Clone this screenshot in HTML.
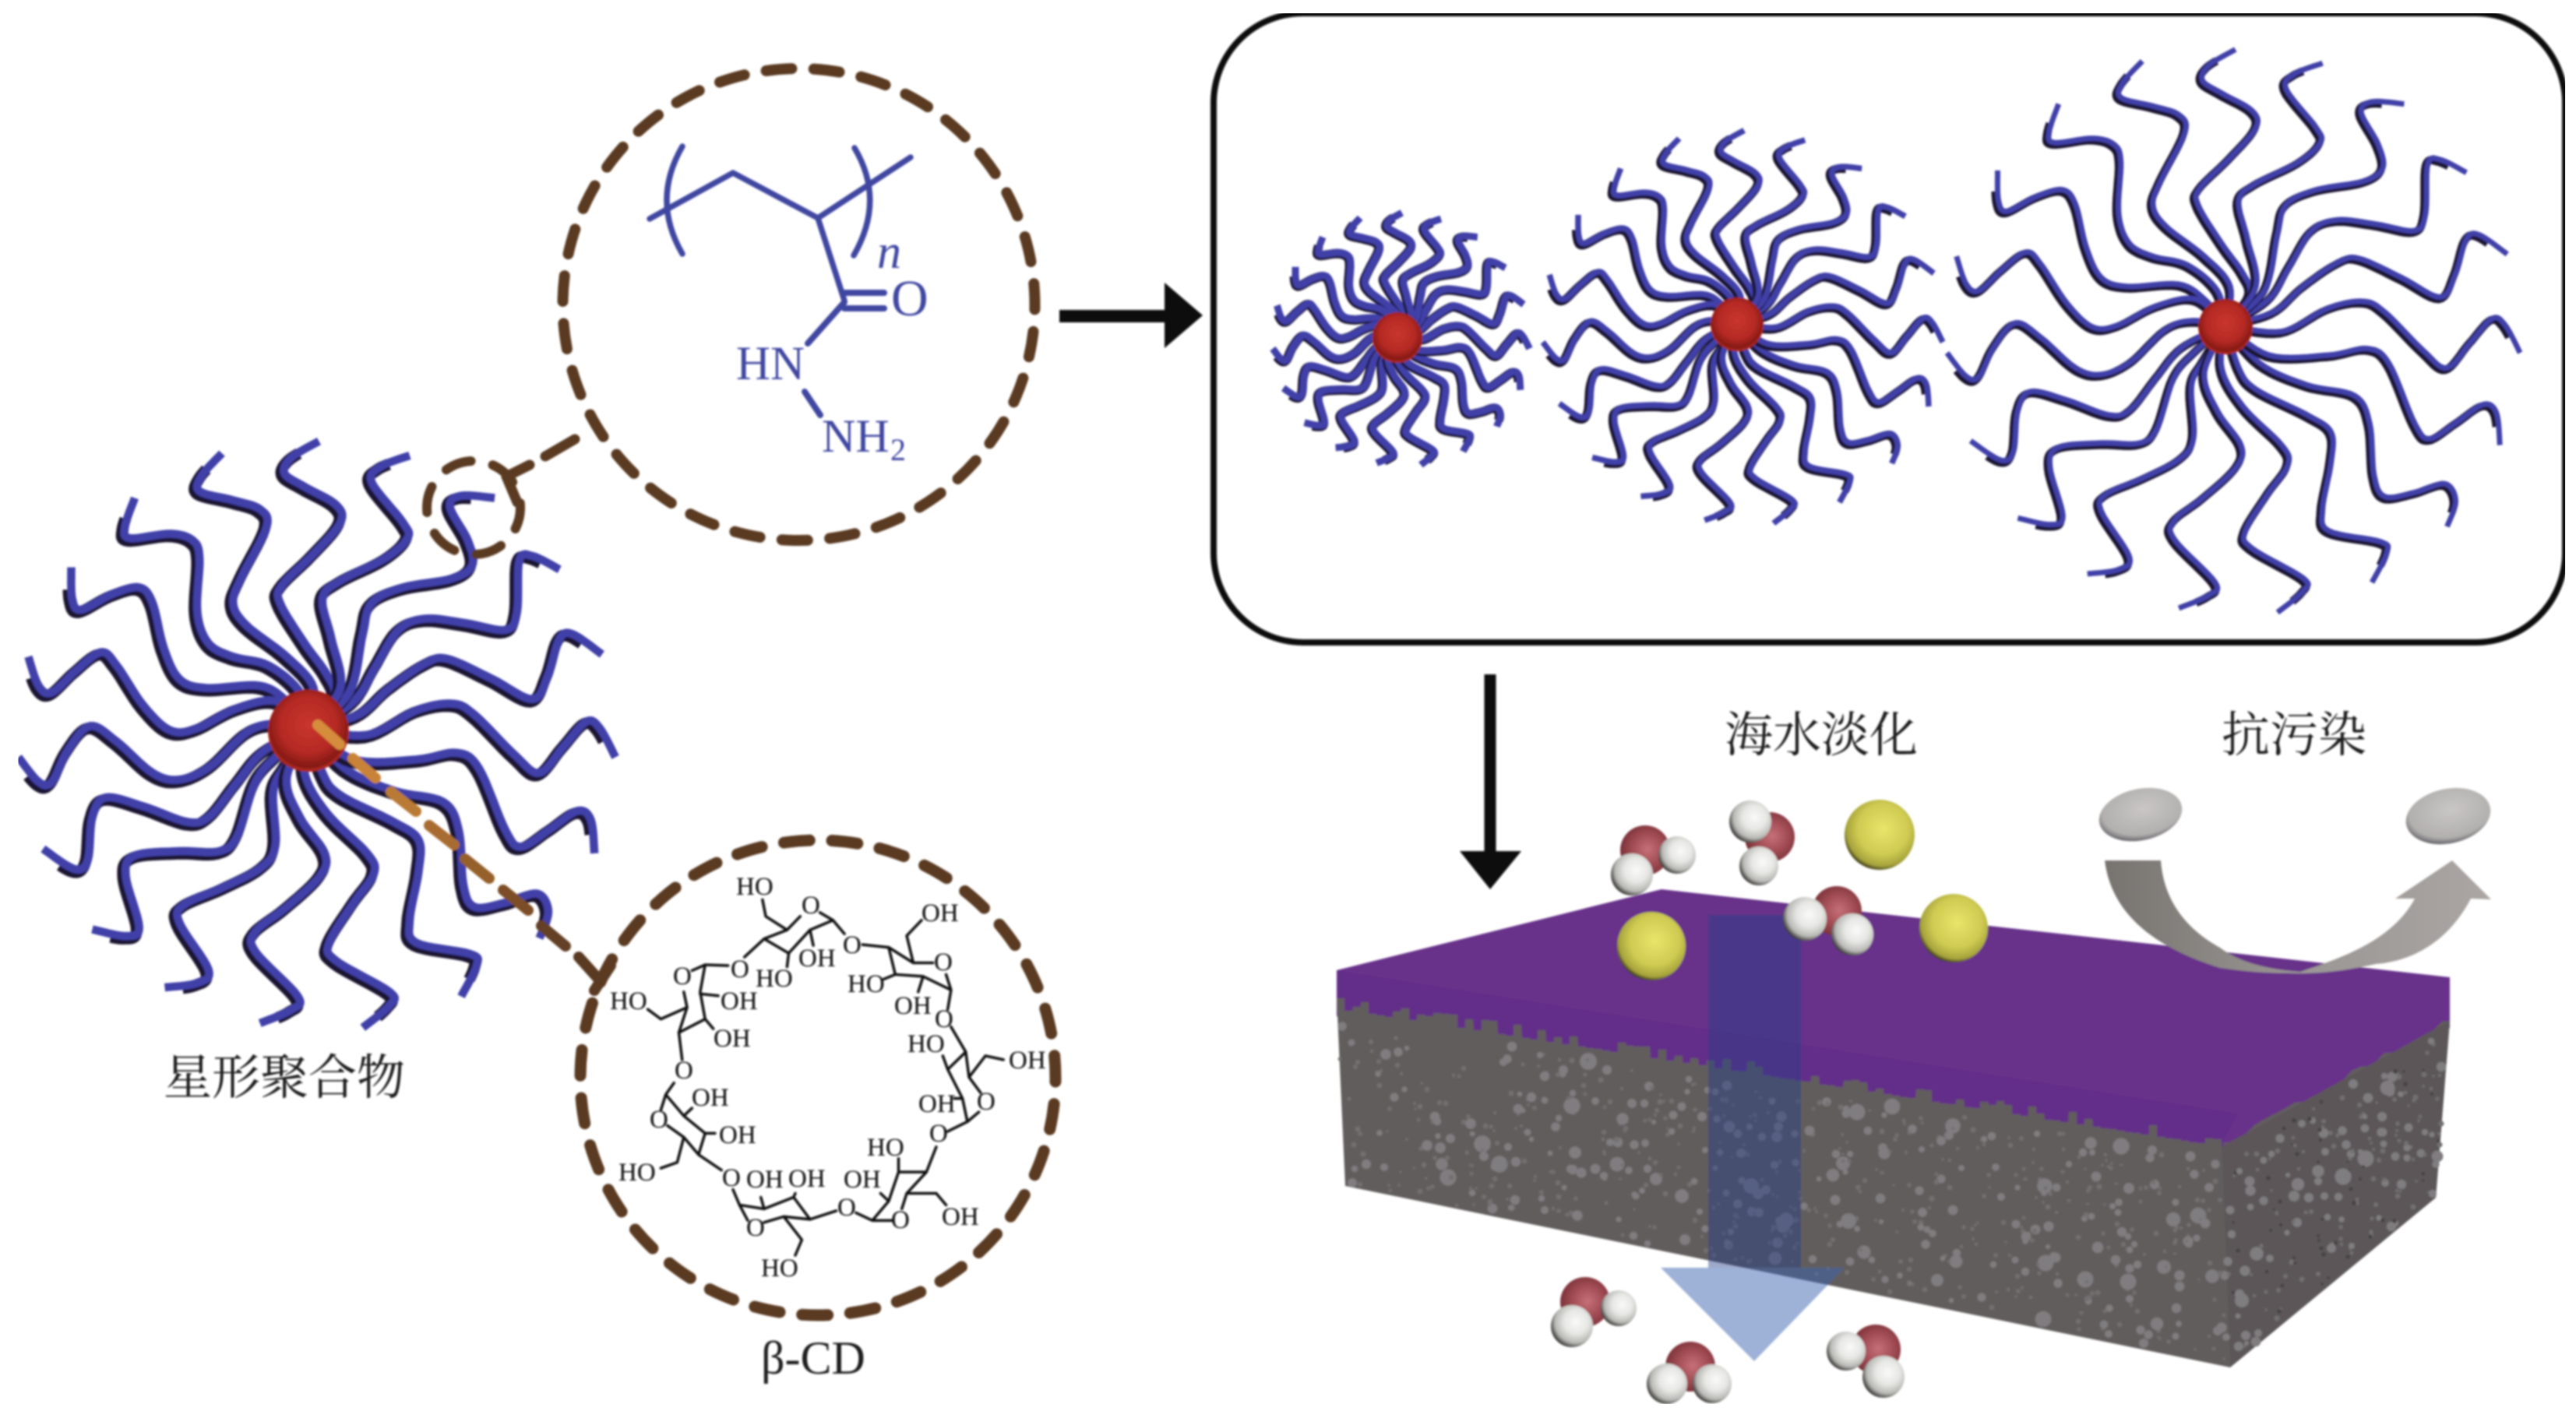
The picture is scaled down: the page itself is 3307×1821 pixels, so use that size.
<!DOCTYPE html>
<html><head><meta charset="utf-8"><title>Diagram</title>
<style>
html,body{margin:0;padding:0;background:#fff}
svg{display:block}
.s{font-family:"Liberation Serif","Noto Serif CJK SC",serif}
.c{font-family:"Liberation Serif",serif;font-size:33px;fill:#111}
.b{font-family:"Liberation Serif",serif;fill:#3f46a0}
.z{font-family:"Noto Serif CJK SC","Liberation Serif",serif;font-size:62px;fill:#1a1a1a}
</style></head>
<body>
<svg xmlns="http://www.w3.org/2000/svg" width="3307" height="1821" viewBox="0 0 3307 1821">
<defs>
<filter id="soft" x="0" y="0" width="100%" height="100%"><feGaussianBlur stdDeviation="1.2"/></filter>
<radialGradient id="red" cx="50%" cy="45%" r="55%"><stop offset="0" stop-color="#c8352e"/><stop offset=".65" stop-color="#b52a24"/><stop offset="1" stop-color="#7f1712"/></radialGradient>
<radialGradient id="oxy" cx="55%" cy="48%" r="55%"><stop offset="0" stop-color="#c67078"/><stop offset=".6" stop-color="#9f4a52"/><stop offset="1" stop-color="#7a3138"/></radialGradient>
<radialGradient id="hyd" cx="60%" cy="40%" r="64%"><stop offset="0" stop-color="#fafafa"/><stop offset=".45" stop-color="#e6e6e3"/><stop offset=".78" stop-color="#b8b8b4"/><stop offset="1" stop-color="#2e2c2a"/></radialGradient>
<radialGradient id="yel" cx="55%" cy="42%" r="60%"><stop offset="0" stop-color="#e9e56a"/><stop offset=".6" stop-color="#cfcb52"/><stop offset=".88" stop-color="#a5a23c"/><stop offset="1" stop-color="#26250e"/></radialGradient>
<radialGradient id="gry" cx="55%" cy="40%" r="62%"><stop offset="0" stop-color="#c9c7c5"/><stop offset=".8" stop-color="#b2b0ae"/><stop offset=".95" stop-color="#77757a"/><stop offset="1" stop-color="#3a3836"/></radialGradient>
<linearGradient id="swoop" x1="0" x2="1" y1="0" y2="0"><stop offset="0" stop-color="#77736f"/><stop offset=".5" stop-color="#9a9693"/><stop offset="1" stop-color="#aba6a3"/></linearGradient>
</defs>
<g filter="url(#soft)">

<!-- Box -->
<rect x="1558" y="17" width="1735" height="808" rx="115" ry="115" fill="none" stroke="#111" stroke-width="8"/>

<!-- Stars -->
<g id="stars"></g>

<!-- Dashed circles -->
<circle cx="1025.500" cy="391" r="303" fill="none" stroke="#5a3a22" stroke-width="14" stroke-linecap="round" stroke-dasharray="33 28.4" stroke-dashoffset="26.6"/>
<circle cx="1050" cy="1384" r="305" fill="none" stroke="#5a3a22" stroke-width="15" stroke-linecap="round" stroke-dasharray="33 28.8" stroke-dashoffset="28"/>
<circle cx="608" cy="652" r="60" fill="none" stroke="#5a3a22" stroke-width="12" stroke-linecap="round" stroke-dasharray="34 28.8" stroke-dashoffset="6"/>
<g stroke="#5a3a22" stroke-width="13" stroke-linecap="round" fill="none">
<path d="M650 612L680 597M700 586L738 564"/>
<path d="M650 612L664 645"/>
</g>
<g stroke-width="14" stroke-linecap="round" fill="none">
<path d="M408 931L436 956" stroke="#d68c3c"/>
<path d="M453 974L482 999" stroke="#c98338"/>
<path d="M502 1017L534 1042" stroke="#b97a34"/>
<path d="M551 1060L583 1085" stroke="#a86c30"/>
<path d="M597 1103L628 1128" stroke="#95602c"/>
<path d="M646 1143L678 1169" stroke="#7c4e28"/>
<path d="M695 1189L726 1215" stroke="#644126"/>
<path d="M743 1229L769 1258" stroke="#5a3a22"/>
<path d="M784 1240L763 1272" stroke="#5a3a22"/>
</g>

<!-- Hydrazide polymer -->
<g fill="none" stroke="#3f46a0" stroke-width="7.5" stroke-linecap="round" stroke-linejoin="round">
<path d="M834 281L941 222L1050 280L1169 202"/>
<path d="M1050 280L1084 386"/>
<path d="M1084 376H1135M1084 396H1135" stroke-width="8"/>
<path d="M1084 388L1037 441" stroke-width="8"/>
<path d="M1033 503L1053 533" stroke-width="8"/>
<path d="M876 188Q836 257 876 326"/>
<path d="M1097 190Q1137 257 1096 328"/>
</g>
<text class="b" x="1126" y="344" font-size="62" font-style="italic">n</text>
<text class="b" x="1144" y="405" font-size="66">O</text>
<text class="b" x="945" y="487" font-size="61">HN</text>
<text class="b" x="1055" y="580" font-size="60">NH</text>
<text class="b" x="1143" y="591" font-size="40">2</text>

<!-- beta-CD bonds -->
<g transform="translate(720 1040) scale(.4209 .4975)" fill="none" stroke="#111" stroke-linejoin="round" stroke-linecap="round">
<g stroke-width="3.500">
<path vector-effect="non-scaling-stroke" d="M615 232L625 275L690 310M560 380L620 333L690 310L730 275M790 265L830 285L865 320M830 285L760 310L695 370L620 333M695 370L690 405M760 310L770 350"/>
<path vector-effect="non-scaling-stroke" d="M920 348L1000 355L1075 395L1135 395M1000 355L1020 425L1105 430L1190 465L1175 425M1075 395L1055 325L1100 285M1020 425L985 437M1105 430L1090 470M1190 465L1180 515"/>
<path vector-effect="non-scaling-stroke" d="M1190 560L1235 625L1180 670L1165 635M1235 625L1245 690L1280 730M1245 690L1295 635L1350 645M1180 670L1225 745L1240 805L1275 780M1225 745L1200 745M1240 805L1180 830"/>
<path vector-effect="non-scaling-stroke" d="M1145 870L1115 935L1030 935L1000 1010L950 1060L1010 1060M1115 935L1055 990L1040 1030M1055 990L1145 990L1175 1020M1030 935L1030 900M1000 1010L975 990M950 1060L900 1040"/>
<path vector-effect="non-scaling-stroke" d="M840 1035L760 1057L710 1000L620 1030L545 1020L525 980M545 1020L570 1060M620 1065L680 1050L760 1057M680 1050L735 1110L715 1150M710 1000L715 990M620 1030L610 1000"/>
<path vector-effect="non-scaling-stroke" d="M490 930L420 890L440 835L375 790L320 735L345 705M320 735L305 775M325 815L375 845L420 890M375 845L355 910L305 925M440 835L470 835M375 790L400 770"/>
<path vector-effect="non-scaling-stroke" d="M370 645L360 575L385 510L375 470M360 575L440 540L425 470L440 400L510 402M440 400L400 415M385 510L305 540L265 515M425 475L480 480M440 540L465 565"/>
</g></g>
<g class="c">
<text class="c" x="945" y="1149">HO</text><text class="c" x="1029" y="1173">O</text><text class="c" x="1183" y="1183">OH</text>
<text class="c" x="1025" y="1241">OH</text><text class="c" x="1082" y="1224">O</text><text class="c" x="1199" y="1246">O</text>
<text class="c" x="970" y="1267">HO</text><text class="c" x="938" y="1255">O</text><text class="c" x="864" y="1264">O</text>
<text class="c" x="783" y="1296">HO</text><text class="c" x="925" y="1296">OH</text><text class="c" x="1088" y="1274">HO</text>
<text class="c" x="1148" y="1302">OH</text><text class="c" x="1200" y="1319">O</text><text class="c" x="1165" y="1351">HO</text>
<text class="c" x="916" y="1344">OH</text><text class="c" x="1295" y="1372">OH</text><text class="c" x="866" y="1385">O</text>
<text class="c" x="888" y="1420">OH</text><text class="c" x="1179" y="1428">OH</text><text class="c" x="1254" y="1425">O</text>
<text class="c" x="834" y="1448">O</text><text class="c" x="1193" y="1466">O</text><text class="c" x="923" y="1468">OH</text>
<text class="c" x="1113" y="1484">HO</text><text class="c" x="794" y="1516">HO</text><text class="c" x="958" y="1525">OH</text>
<text class="c" x="1012" y="1524">OH</text><text class="c" x="1083" y="1525">OH</text><text class="c" x="927" y="1523">O</text>
<text class="c" x="1075" y="1561">O</text><text class="c" x="1144" y="1577">O</text><text class="c" x="958" y="1587">O</text>
<text class="c" x="1209" y="1573">OH</text><text class="c" x="977" y="1639">HO</text>
</g>
<text class="s" x="977" y="1764" font-size="60" fill="#1a1a1a">β-CD</text>
<text class="z" x="210" y="1405">星形聚合物</text>
<text class="z" x="2214" y="965">海水淡化</text>
<text class="z" x="2852" y="965">抗污染</text>

<!-- Arrows -->
<path d="M1360 398H1495V363L1544 405L1495 447V414H1360Z" fill="#111"/>
<path d="M1905.500 866H1920.500V1093H1953L1913 1142L1874 1093H1905.500Z" fill="#111"/>

<!-- Membrane -->
<polygon points="1716,1246 2133,1142 3145,1255 3145,1320 2852,1490 1716,1305" fill="#67328a"/>
<polygon points="1716,1246 2873,1430 2850,1473 1716,1296" fill="#642e89"/>
<g id="membrane"></g>

<!-- Swoop arrow -->
<path d="M2702 1105L2774 1105C2778 1160 2810 1195 2850 1217C2870 1232 2900 1244 2953 1248C3000 1232 3070 1210 3100 1154L3075 1154L3148 1105L3198 1155L3172 1154C3140 1215 3090 1235 3050 1238C3010 1247 2980 1250 2953 1250C2900 1250 2880 1247 2850 1243C2760 1215 2710 1170 2702 1105Z" fill="url(#swoop)"/>
<ellipse cx="2748" cy="1046" rx="54" ry="33" transform="rotate(-12 2748 1046)" fill="url(#gry)"/>
<ellipse cx="3143" cy="1048" rx="55" ry="35" transform="rotate(-12 3143 1048)" fill="url(#gry)"/>

<!-- Blue arrow -->
<path d="M2193 1175H2312V1628H2193Z" fill="#284187" fill-opacity=".45"/>
<path d="M2132 1628H2368L2252 1748Z" fill="#3c64af" fill-opacity=".5"/>

<!-- Spheres -->
<circle cx="2413" cy="1072" r="45" fill="url(#yel)"/>
<circle cx="2120" cy="1215" r="44" fill="url(#yel)"/>
<circle cx="2508" cy="1192" r="44" fill="url(#yel)"/>
<g id="water"></g>
</g>
</svg>
<script>
(function(){
var NS="http://www.w3.org/2000/svg";
function el(p,n,a){var e=document.createElementNS(NS,n);for(var k in a)e.setAttribute(k,a[k]);p.appendChild(e);return e;}
var cx0=690,cy0=760;
var arms=[
[712,118,650,155,635,190,680,220,750,260,760,300,700,370,630,440,625,480,680,570,730,640,745,690],
[495,145,450,195,445,230,520,250,580,270,595,310,540,420,520,480,550,530,640,600,700,670],
[300,245,278,310,290,335,380,325,430,340,445,380,440,500,465,570,520,600,600,620,670,680],
[158,400,160,470,180,495,250,460,310,445,340,480,365,580,400,650,460,670,580,665,640,700],
[62,600,85,665,115,680,170,630,225,590,260,620,320,710,380,765,440,760,530,715,620,700],
[40,825,85,880,115,880,150,810,200,755,260,790,340,860,400,875,470,845,550,770,610,750],
[95,1030,165,1075,195,1055,205,960,235,915,320,935,420,970,470,955,530,880,590,810],
[205,1210,280,1225,310,1205,280,1090,300,1045,400,1035,490,1035,530,1000,570,880,620,820],
[367,1340,440,1330,465,1300,400,1195,410,1155,500,1115,585,1070,615,1020,610,900,640,840],
[580,1420,650,1390,665,1360,570,1260,570,1215,640,1160,715,1090,725,1040,670,960,640,870],
[810,1430,870,1380,870,1350,750,1280,735,1240,790,1150,835,1085,820,1040,730,950,680,860],
[1030,1360,1065,1290,1050,1265,930,1240,915,1190,935,1080,935,1010,880,970,760,910,720,860],
[1205,1230,1225,1170,1200,1130,1130,1150,1060,1160,1035,1110,1025,990,990,925,880,900,770,850],
[1328,1040,1320,965,1290,945,1230,985,1165,1025,1130,990,1070,850,1020,815,930,830,790,830],
[1375,825,1340,760,1310,745,1260,800,1205,860,1150,820,1060,730,1010,705,930,720,820,775],
[1345,595,1280,550,1250,560,1225,640,1190,695,1100,650,1000,605,950,615,870,670,800,730],
[1250,405,1190,375,1160,385,1155,500,1130,540,1040,525,950,515,890,540,840,620,790,700],
[1105,245,1030,240,1005,265,1045,340,1055,395,1010,425,900,445,830,480,810,550,780,680],
[915,150,850,175,830,210,900,300,910,335,860,380,760,430,720,470,740,560,760,670]
];
function sample(a,k,cx,cy){
 var p=[];for(var i=0;i<a.length;i+=2)p.push([cx+(a[i]-cx0)*k,cy+(a[i+1]-cy0)*k]);
 p.push([cx,cy]);
 var o=[];
 for(i=0;i<p.length-1;i++){
  var a0=p[Math.max(i-1,0)],a1=p[i],a2=p[i+1],a3=p[Math.min(i+2,p.length-1)];
  for(var t=0;t<1;t+=.125){
   var t2=t*t,t3=t2*t;
   o.push([.5*(2*a1[0]+(a2[0]-a0[0])*t+(2*a0[0]-5*a1[0]+4*a2[0]-a3[0])*t2+(3*a1[0]-a0[0]-3*a2[0]+a3[0])*t3),
           .5*(2*a1[1]+(a2[1]-a0[1])*t+(2*a0[1]-5*a1[1]+4*a2[1]-a3[1])*t2+(3*a1[1]-a0[1]-3*a2[1]+a3[1])*t3)]);
  }
 }
 o.push(p[p.length-1]);return o;
}
function dStr(o,from,dx,dy){var s="";for(var i=from;i<o.length;i++)s+=(i==from?"M":"L")+(o[i][0]+dx).toFixed(1)+" "+(o[i][1]+dy).toFixed(1);return s;}
var stars=document.getElementById("stars");
function star(cx,cy,s,bw,dw,off,r){
 var k=s/1.742;
 arms.forEach(function(a){
  var o=sample(a,k,cx,cy);
  el(stars,"path",{d:dStr(o,5,-off,off),fill:"none",stroke:"#1e1330","stroke-width":dw,"stroke-linejoin":"round"});
  el(stars,"path",{d:dStr(o,0,off*.35,-off*.35),fill:"none",stroke:"#3f3fa8","stroke-width":bw,"stroke-linejoin":"round"});
 });
 el(stars,"circle",{cx:cx,cy:cy+r*.06,r:r,fill:"#a8261f"});
 el(stars,"circle",{cx:cx,cy:cy,r:r*.97,fill:"url(#red)"});
}
star(396,936,1,10.5,15,2.5,52);
star(1794,432,.43,9,12,1,32);
star(2230,415,.67,7.5,11,1.8,34);
star(2857,418,.96,7,10.5,2,35);

/* membrane */
var m=document.getElementById("membrane");
var A=[1716,1296],B=[2852,1473],C=[2863,1756],D=[1727,1523],E=[3145,1311],F=[3127,1538];
var seed=12345;function R(){seed=(seed*16807)%2147483647;return seed/2147483647;}
var pts="";
var n=110;for(var i=0;i<=n;i++){var t=i/n;var x=A[0]+(B[0]-A[0])*t,y=A[1]+(B[1]-A[1])*t;var up=R()<.35?-6-R()*10:0;pts+=x.toFixed(0)+","+(y+up).toFixed(0)+" "+(x+10).toFixed(0)+","+(y+up).toFixed(0)+" ";}
for(i=0;i<=28;i++){t=i/28;x=B[0]+(E[0]-B[0])*t;y=B[1]+(E[1]-B[1])*t;pts+=x.toFixed(0)+","+(y+(R()<.3?-5:0)).toFixed(0)+" ";}
pts+=F.join(",")+" "+C.join(",")+" "+D.join(",");
el(m,"polygon",{points:pts,fill:"#625d5d"});
el(m,"polygon",{points:[B,E,F,C].map(function(p){return p.join(",")}).join(" "),fill:"#5c5758"});
function quad(a,b,c,d,u,v){var tx=a[0]+(b[0]-a[0])*u,ty=a[1]+(b[1]-a[1])*u,bx=d[0]+(c[0]-d[0])*u,by=d[1]+(c[1]-d[1])*u;return [tx+(bx-tx)*v,ty+(by-ty)*v];}
function dots(a,b,c,d,N,dark){
 for(var i=0;i<N;i++){
  var p=quad(a,b,c,d,R(),.05+R()*.93),q=R();
  var r=q<.62?1.5+R()*2:(q<.92?3+R()*3.5:6.5+R()*4.5);
  if(dark&&R()<.22)el(m,"circle",{cx:p[0].toFixed(0),cy:p[1].toFixed(0),r:(1.5+R()*1.5).toFixed(1),fill:"#464344"});
  else el(m,"circle",{cx:p[0].toFixed(0),cy:p[1].toFixed(0),r:r.toFixed(1),fill:q<.62?"#737071":"#7f7d7f"});
 }
}
dots(A,B,C,D,700,false);
dots(B,E,F,C,230,true);

/* water */
var w=document.getElementById("water");
[
[2112,1092,2153,1098,24,2095,1123,27],
[2272,1075,2247,1055,27,2258,1112,25],
[2358,1170,2317,1180,28,2378,1200,27],
[2035,1672,2078,1680,23,2018,1703,27],
[2170,1755,2140,1777,26,2198,1777,25],
[2408,1733,2370,1735,25,2418,1768,27]
].forEach(function(a){
 el(w,"circle",{cx:a[0],cy:a[1],r:32,fill:"url(#oxy)"});
 el(w,"circle",{cx:a[2],cy:a[3],r:a[4],fill:"url(#hyd)"});
 el(w,"circle",{cx:a[5],cy:a[6],r:a[7],fill:"url(#hyd)"});
});
})();
</script>
</body></html>
